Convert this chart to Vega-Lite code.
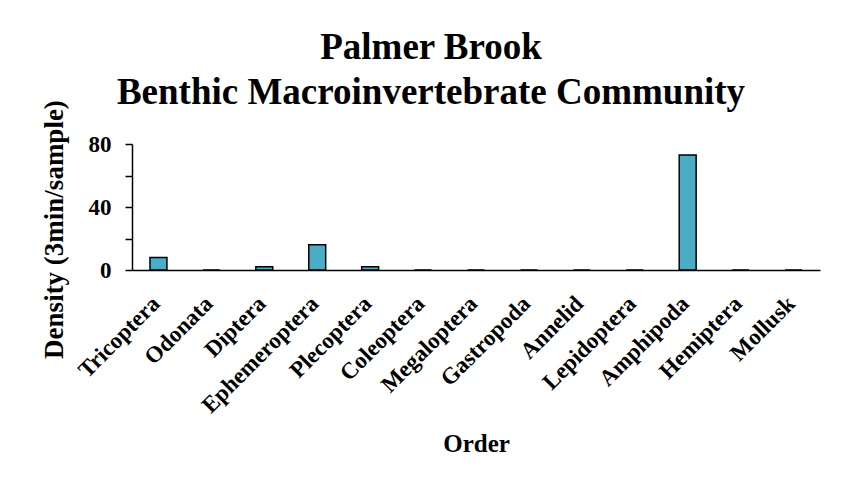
{
  "$schema": "https://vega.github.io/schema/vega-lite/v6.json",
  "autosize": {"type": "none"},
  "width": 688,
  "height": 126,
  "padding": {"left": 132, "top": 144, "right": 29, "bottom": 217},
  "background": "white",
  "title": {
    "text": ["Palmer Brook", "Benthic Macroinvertebrate Community"],
    "font": "Liberation Serif",
    "fontSize": 37,
    "fontWeight": "bold",
    "color": "black",
    "lineHeight": 45,
    "anchor": "middle",
    "frame": "group",
    "dx": -45,
    "offset": -12
  },
  "data": {
    "values": [
      {"order": "Tricoptera", "density": 8},
      {"order": "Odonata", "density": 0},
      {"order": "Diptera", "density": 2},
      {"order": "Ephemeroptera", "density": 16},
      {"order": "Plecoptera", "density": 2},
      {"order": "Coleoptera", "density": 0},
      {"order": "Megaloptera", "density": 0},
      {"order": "Gastropoda", "density": 0},
      {"order": "Annelid", "density": 0},
      {"order": "Lepidoptera", "density": 0},
      {"order": "Amphipoda", "density": 73},
      {"order": "Hemiptera", "density": 0},
      {"order": "Mollusk", "density": 0}
    ]
  },
  "mark": {"type": "bar", "fill": "#4BACC6", "stroke": "black", "strokeWidth": 1.5},
  "encoding": {
    "x": {
      "field": "order",
      "type": "nominal",
      "sort": null,
      "scale": {"paddingInner": 0.68, "paddingOuter": 0.34},
      "axis": {
        "title": "Order",
        "titleFont": "Liberation Serif",
        "titleFontSize": 25,
        "titleFontWeight": "bold",
        "titleColor": "black",
        "titlePadding": 14,
        "labelAngle": -45,
        "labelFont": "Liberation Serif",
        "labelFontSize": 23,
        "labelFontWeight": "bold",
        "labelColor": "black",
        "labelPadding": 22,
        "labelOffset": -10,
        "ticks": false,
        "domainColor": "black",
        "domainWidth": 1.5
      }
    },
    "y": {
      "field": "density",
      "type": "quantitative",
      "scale": {"domain": [0, 80], "nice": false},
      "axis": {
        "title": "Density (3min/sample)",
        "titleFont": "Liberation Serif",
        "titleFontSize": 27,
        "titleFontWeight": "bold",
        "titleColor": "black",
        "titlePadding": 20,
        "titleY": 85,
        "values": [0, 20, 40, 60, 80],
        "labelExpr": "datum.value % 40 == 0 ? datum.label : ''",
        "labelFont": "Liberation Serif",
        "labelFontSize": 23,
        "labelFontWeight": "bold",
        "labelColor": "black",
        "labelPadding": 14,
        "tickColor": "black",
        "tickSize": 7,
        "tickWidth": 1.5,
        "domainColor": "black",
        "domainWidth": 1.5,
        "grid": false
      }
    }
  },
  "config": {"view": {"stroke": null}}
}
